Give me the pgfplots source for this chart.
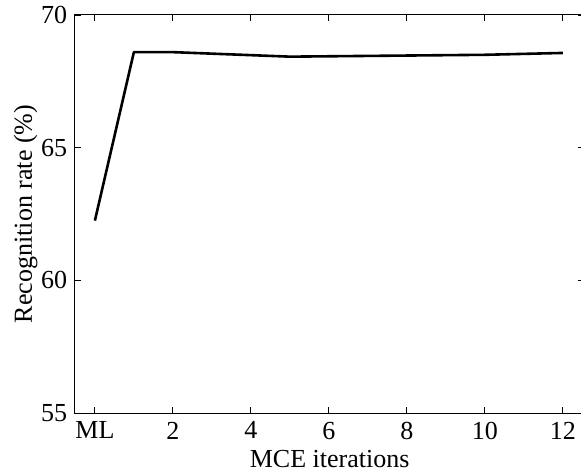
\documentclass[border=0pt]{standalone}
\usepackage{fontspec}
\setmainfont{Liberation Serif}
\usepackage{pgfplots}
\pgfplotsset{compat=1.18}
\begin{document}
\fontsize{26bp}{30bp}\selectfont
\begin{tikzpicture}
\path[use as bounding box] (-75bp,-59bp) rectangle (506bp,413bp);
\begin{axis}[
  at={(0,0)}, anchor=south west,
  scale only axis,
  width=509.3bp, height=398bp,
  xmin=-0.51, xmax=12.55,
  ymin=55, ymax=70,
  axis line style={line width=1bp},
  tick style={line width=0.8bp, black},
  tick align=inside,
  major tick length=6bp,
  xtick={0,2,4,6,8,10,12},
  xticklabels={ML,2,4,6,8,10,12},
  ytick={55,60,65,70},
  /pgf/number format/assume math mode=true,
  ticklabel style={font=\fontsize{26bp}{30bp}\selectfont},
  label style={font=\fontsize{26bp}{30bp}\selectfont},
  xlabel={MCE iterations},
  ylabel={Recognition rate (\%)},
  xticklabel style={yshift=0bp},
  xlabel style={yshift=7bp},
  ylabel style={yshift=-14bp},
  yticklabel style={xshift=1bp},
  clip=false,
]
\addplot[black, line width=2.6bp, line join=round] coordinates {
  (0,62.25) (1,68.6) (2,68.6) (5,68.43) (10,68.5) (12,68.57)
};
\end{axis}
\end{tikzpicture}
\end{document}
